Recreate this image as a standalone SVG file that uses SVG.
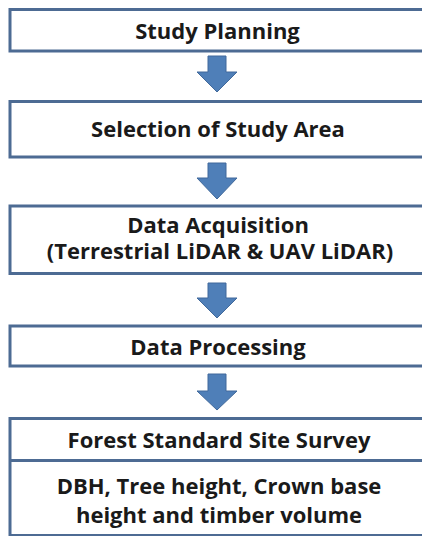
<svg xmlns="http://www.w3.org/2000/svg" width="422" height="536" viewBox="0 0 422 536">
  <style>
    .box { fill: #ffffff; stroke: #4d6b93; stroke-width: 3; }
    .div { stroke: #4d6b93; stroke-width: 3; }
    .arrow { fill: #4f7fb8; stroke: #41699b; stroke-width: 1; stroke-linejoin: miter; }
    .lbl { font-family: "Open Sans", "Noto Sans", "Liberation Sans", sans-serif; font-weight: 700; font-size: 22px; fill: #1a1a1a; text-anchor: middle; }
  </style>
  <rect width="422" height="536" fill="#ffffff"/>

  <g id="connectors">
    <polygon class="arrow" points="208,56 226,56 226,72 237,72 217,92 197,72 208,72"/>
    <polygon class="arrow" points="208,163 226,163 226,178 237,178 217,199 197,178 208,178"/>
    <polygon class="arrow" points="208,283 226,283 226,298 237,298 217,318 197,298 208,298"/>
    <polygon class="arrow" points="208,374 226,374 226,391 237,391 217,410 197,391 208,391"/>
  </g>

  <g id="study-planning">
    <rect class="box" x="10" y="9.5" width="420" height="41.5"/>
    <text class="lbl" x="217.5" y="39">Study Planning</text>
  </g>

  <g id="study-area">
    <rect class="box" x="10" y="101.5" width="420" height="55.5"/>
    <text class="lbl" x="218" y="137">Selection of Study Area</text>
  </g>

  <g id="data-acquisition">
    <rect class="box" x="10" y="206" width="420" height="67.5"/>
    <text class="lbl" x="218" y="233">Data Acquisition</text>
    <text class="lbl" x="220" y="259">(Terrestrial LiDAR &amp; UAV LiDAR)</text>
  </g>

  <g id="data-processing">
    <rect class="box" x="10" y="326" width="420" height="40"/>
    <text class="lbl" x="218" y="355">Data Processing</text>
  </g>

  <g id="site-survey">
    <rect class="box" x="10" y="418.5" width="420" height="117"/>
    <line class="div" x1="10" y1="460.5" x2="430" y2="460.5"/>
    <text class="lbl" x="219" y="448">Forest Standard Site Survey</text>
    <text class="lbl" x="219" y="494">DBH, Tree height, Crown base</text>
    <text class="lbl" x="219" y="523">height and timber volume</text>
  </g>
</svg>
